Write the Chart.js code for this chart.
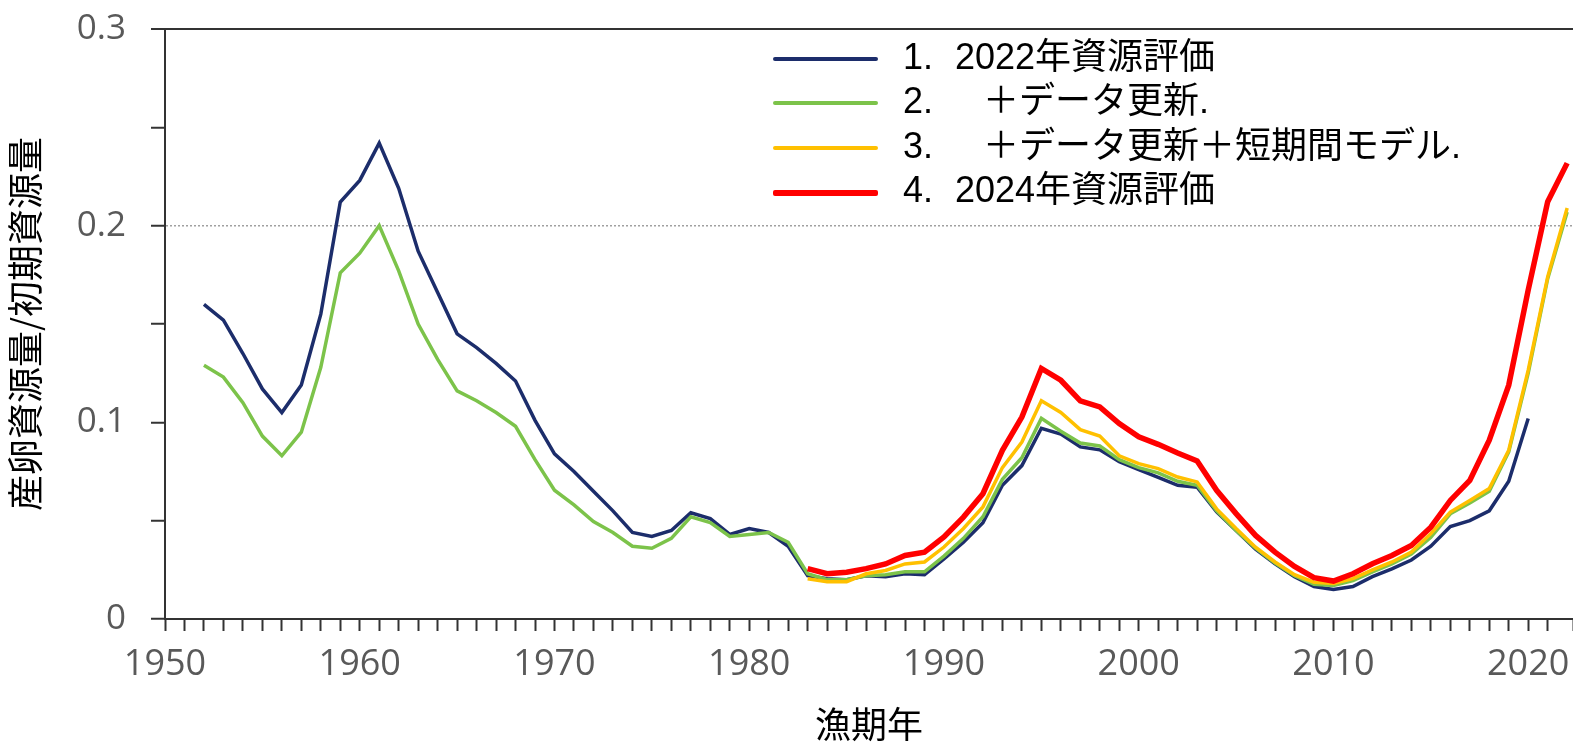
<!DOCTYPE html>
<html>
<head>
<meta charset="utf-8">
<script src="https://cdn.jsdelivr.net/npm/chart.js@4.4.1/dist/chart.umd.min.js"></script>
<style>
  html, body { margin: 0; padding: 0; background: #fff; }
  #wrap { position: relative; width: 1573px; height: 750px; }
  #legend {
    position: absolute; left: 0; top: 0; width: 100%; height: 100%;
    pointer-events: none;
    font-family: "Liberation Sans", "Noto Sans CJK JP", sans-serif;
    font-size: 36px; color: #000;
  }
  .row { position: absolute; left: 773px; height: 44px; }
  .swatch { position: absolute; left: 0; width: 105px; top: 20px; border-radius: 2px; }
  .num { position: absolute; left: 130px; top: 0; line-height: 40px; white-space: nowrap; }
  .lab { position: absolute; left: 182px; top: 0; line-height: 40px; white-space: nowrap; }
  .lab.ind { left: 210px; }
</style>
</head>
<body>
<div id="wrap">
  <canvas id="c" width="1573" height="750"></canvas>
  <div id="legend"></div>
</div>
<script>
// ── Data ─────────────────────────────────────────────────────
const START_1 = 1952;   // 2022年資源評価
const START_2 = 1952;   // ＋データ更新
const START_3 = 1983;   // ＋データ更新＋短期間モデル
const START_4 = 1983;   // 2024年資源評価

const ser1 = [
  0.160, 0.152, 0.135, 0.117, 0.105, 0.119, 0.155, 0.212, 0.223, 0.242,
  0.219, 0.187, 0.166, 0.145, 0.138, 0.130, 0.121, 0.101, 0.084, 0.075,
  0.065, 0.055, 0.044, 0.042, 0.045, 0.054, 0.051, 0.043, 0.046, 0.044,
  0.037, 0.022, 0.0205, 0.020, 0.022, 0.0215, 0.023, 0.0225, 0.0305, 0.039,
  0.049, 0.068, 0.078, 0.097, 0.094, 0.0875, 0.086, 0.080, 0.076, 0.072,
  0.068, 0.067, 0.0545, 0.045, 0.0355, 0.028, 0.0215, 0.0165, 0.015, 0.0165,
  0.0215, 0.0255, 0.030, 0.037, 0.047, 0.050, 0.055, 0.070, 0.102
];
const ser2 = [
  0.129, 0.123, 0.110, 0.093, 0.083, 0.095, 0.128, 0.176, 0.186, 0.200,
  0.177, 0.150, 0.132, 0.116, 0.111, 0.105, 0.098, 0.081, 0.0655, 0.058,
  0.0495, 0.044, 0.037, 0.036, 0.041, 0.052, 0.049, 0.042, 0.043, 0.044,
  0.039, 0.023, 0.020, 0.020, 0.022, 0.0225, 0.024, 0.024, 0.032, 0.041,
  0.052, 0.071, 0.082, 0.102, 0.0955, 0.0895, 0.088, 0.081, 0.077, 0.0743,
  0.070, 0.068, 0.055, 0.045, 0.036, 0.0285, 0.022, 0.0177, 0.017, 0.0195,
  0.024, 0.028, 0.033, 0.0416, 0.0535, 0.059, 0.065, 0.085, 0.125, 0.173,
  0.207
];
const ser3 = [
  0.0205, 0.019, 0.019, 0.023, 0.0247, 0.028, 0.029, 0.0366, 0.046, 0.057,
  0.077, 0.090, 0.111, 0.105, 0.0963, 0.093, 0.083, 0.079, 0.0765, 0.0722,
  0.0697, 0.056, 0.046, 0.0365, 0.029, 0.0225, 0.0187, 0.018, 0.0205, 0.025,
  0.029, 0.034, 0.0434, 0.0544, 0.0603, 0.0663, 0.0858, 0.1265, 0.174, 0.209
];
const ser4 = [
  0.0256, 0.023, 0.0238, 0.0256, 0.028, 0.0323, 0.034, 0.0417, 0.0518, 0.0637,
  0.0858, 0.1027, 0.1274, 0.1214, 0.1109, 0.1078, 0.0994, 0.0926, 0.0888, 0.0844,
  0.0803, 0.0654, 0.0536, 0.0425, 0.034, 0.0267, 0.021, 0.0193, 0.023, 0.0281,
  0.0323, 0.0374, 0.0467, 0.0603, 0.0705, 0.0909, 0.1189, 0.1673, 0.2122, 0.2318
];

const LABELS = [
  ['1.', '2022年資源評価', false],
  ['2.', '＋データ更新.', true],
  ['3.', '＋データ更新＋短期間モデル.', true],
  ['4.', '2024年資源評価', false]
];
const COLORS = ['#1c2d6b', '#7cc34a', '#ffc000', '#ff0000'];
const WIDTHS = [3.5, 3.5, 3.5, 5.5];

const X_MIN = 1950, X_MAX = 2022.3;
const Y_MIN = 0, Y_MAX = 0.3;

// ── Helpers ──────────────────────────────────────────────────
function pts(start, vals) { return vals.map((v, i) => ({ x: start + i, y: v })); }
const near = (a, b) => Math.abs(a - b) < 1e-9;

const XTICK_FONT = { family: '"Open Sans", sans-serif', size: 36 };
const YTICK_FONT = { family: '"Open Sans", sans-serif', size: 35 };
const TITLE_FONT = { family: '"Noto Sans CJK JP", sans-serif', size: 36 };

// ── Chart ────────────────────────────────────────────────────
const series = [ser1, ser2, ser3, ser4];
const starts = [START_1, START_2, START_3, START_4];

new Chart(document.getElementById('c'), {
  type: 'line',
  data: {
    datasets: series.map((s, i) => ({
      label: LABELS[i][0] + ' ' + LABELS[i][1],
      data: pts(starts[i], s),
      borderColor: COLORS[i],
      borderWidth: WIDTHS[i],
      pointRadius: 0,
      tension: 0,
      fill: false,
      order: 3 - i          // red drawn on top
    }))
  },
  options: {
    responsive: false,
    animation: false,
    layout: { padding: { top: 29, right: 0, left: 0, bottom: 0 } },
    plugins: { legend: { display: false }, tooltip: { enabled: false } },
    scales: {
      x: {
        type: 'linear',
        min: X_MIN, max: X_MAX,
        afterFit: s => { s.height = 131; s.paddingRight = 0; s.paddingLeft = 0; },
        ticks: {
          stepSize: 1, autoSkip: false, maxRotation: 0, padding: 12,
          color: '#595959', font: XTICK_FONT,
          callback: v => (v % 10 === 0 ? String(v) : '')
        },
        grid: { drawOnChartArea: false, tickLength: 12, tickColor: '#333', tickWidth: 2 },
        border: { color: '#333', width: 2 },
        title: { display: true, text: '漁期年', color: '#000', font: TITLE_FONT, padding: { top: 10 } }
      },
      y: {
        min: Y_MIN, max: Y_MAX,
        afterFit: s => { s.width = 165; s.paddingTop = 0; s.paddingBottom = 0; },
        ticks: {
          stepSize: 0.05, padding: 25,
          color: '#595959', font: YTICK_FONT,
          callback: v => {
            const r = Math.round(v * 10) / 10;
            return near(v, r) ? (r === 0 ? '0' : r.toFixed(1)) : '';
          }
        },
        grid: {
          tickLength: 14, tickColor: '#333', tickWidth: 2,
          color: ctx => near(ctx.tick.value, 0.2) ? '#a0a0a0' : (near(ctx.tick.value, 0.3) ? '#333' : 'rgba(0,0,0,0)'),
          lineWidth: ctx => near(ctx.tick.value, 0.3) ? 2 : 1.5
        },
        border: {
          color: '#333', width: 2,
          dash: ctx => (ctx.tick && near(ctx.tick.value, 0.2)) ? [2, 2] : []
        },
        title: { display: true, text: '産卵資源量/初期資源量', color: '#000', font: TITLE_FONT, padding: { bottom: 0 } }
      }
    }
  }
});

// ── Legend (inside plot, upper middle) ───────────────────────
const ROW_TOP = [37, 81, 126, 170];
document.getElementById('legend').innerHTML = LABELS.map((l, i) => `
  <div class="row" style="top:${ROW_TOP[i]}px">
    <div class="swatch" style="height:${WIDTHS[i]}px;background:${COLORS[i]};"></div>
    <span class="num">${l[0]}</span><span class="lab${l[2] ? ' ind' : ''}">${l[1]}</span>
  </div>`).join('');
</script>
</body>
</html>
